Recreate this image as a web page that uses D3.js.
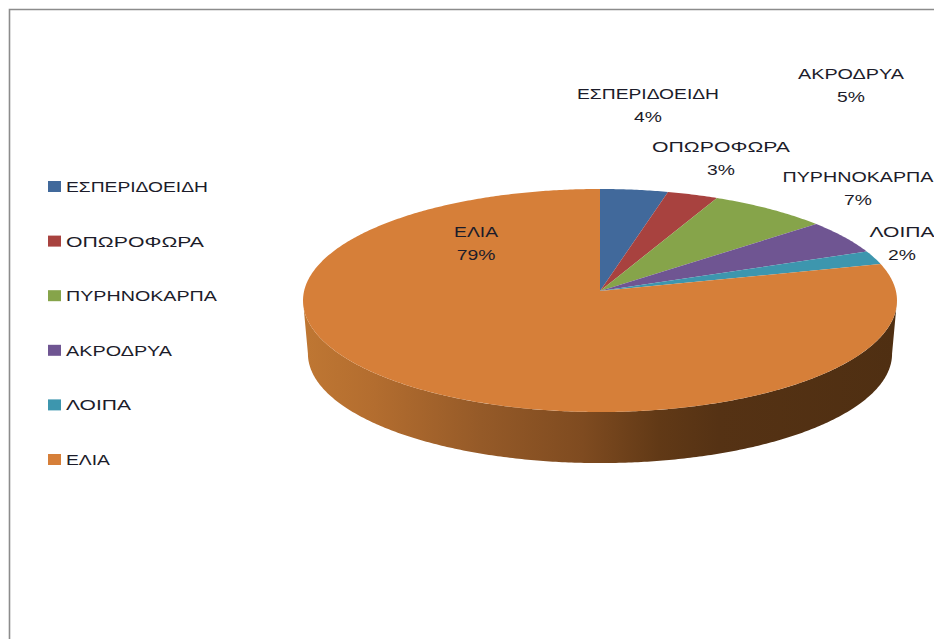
<!DOCTYPE html>
<html lang="el">
<head>
<meta charset="utf-8">
<script src="https://cdn.jsdelivr.net/npm/d3@7"></script>
<style>
  html, body { margin: 0; padding: 0; background: #fff; overflow: hidden; }
  svg { display: block; }
  text { font-family: "Liberation Sans", Arial, sans-serif; fill: #1c1c2a; }
</style>
</head>
<body>
<svg id="chart" width="934" height="639"></svg>
<script>
// Crop shares (%) and their slice colours
const categories = ["ΕΣΠΕΡΙΔΟΕΙΔΗ", "ΟΠΩΡΟΦΩΡΑ", "ΠΥΡΗΝΟΚΑΡΠΑ", "ΑΚΡΟΔΡΥΑ", "ΛΟΙΠΑ", "ΕΛΙΑ"];
const shares = [4, 3, 7, 5, 2, 79];
const colors = ["#41699b", "#a8423f", "#86a44a", "#6f5592", "#3d96ae", "#d67f39"];

// Data label centres and set widths of the category names
const labelX = [648, 721, 858, 851, 902, 476];
const labelY = [94, 147, 177, 74, 232, 232];
const nameWidths = [142, 138, 151, 106, 65, 44];

const svg = d3.select("#chart");
const FONT = 15.2;
const WIDEN = 1.27;   // horizontal stretch of the percentages

// Outer frame: only the top and left edges fall inside the page
svg.append("path")
  .attr("d", d3.line()([[9.5, 639], [9.5, 9.5], [934, 9.5]]))
  .attr("fill", "none").attr("stroke", "#8c8c8c").attr("stroke-width", 1.6);

// Perspective projection of a unit disc lying on a tilted plane
const TILT = 0.0852;
function projector(cx, cy, rx, ry) {
  return (angle, r = 1) => {
    const u = r * Math.sin(angle), v = r * Math.cos(angle);
    const d = 1 + TILT * v;
    return [cx + rx * u / d, cy - ry * v / d];
  };
}
const topFace = projector(600, 291, 295.9, 110.7);
const baseFace = projector(600, 344.5, 291, 108.5);

const line = d3.line();
const steps = (a0, a1) => {
  const n = Math.max(2, Math.ceil((a1 - a0) / 0.01));
  return d3.range(n + 1).map(i => a0 + (a1 - a0) * i / n);
};

const defs = svg.append("defs");
const wallGrad = defs.append("linearGradient").attr("id", "wall")
  .attr("gradientUnits", "userSpaceOnUse")
  .attr("x1", 303).attr("x2", 897).attr("y1", 0).attr("y2", 0);
[[0, "#bf7733"], [0.12, "#b36d2f"], [0.3, "#955a28"], [0.47, "#7f4b20"],
 [0.6, "#613916"], [0.7, "#553214"], [1, "#4f2f12"]].forEach(([o, c]) =>
  wallGrad.append("stop").attr("offset", o).attr("stop-color", c));

// Side wall of the disc, between the outline's widest points on the near half
const silhouette = Math.PI / 2 + Math.asin(TILT);
const wallAngles = steps(silhouette, 2 * Math.PI - silhouette);
const wallPts = wallAngles.map(a => topFace(a))
  .concat(wallAngles.slice().reverse().map(a => baseFace(a)));
svg.append("path").attr("d", line(wallPts) + "Z").attr("fill", "url(#wall)");

// Top face, one wedge per category, clockwise from twelve o'clock
const arcs = d3.pie().value(d => d).sort(null)(shares);
svg.append("g").selectAll("path").data(arcs).join("path")
  .attr("d", d => {
    const pts = steps(d.startAngle, d.endAngle).map(a => topFace(a));
    return line([topFace(0, 0), ...pts]) + "Z";
  })
  .attr("fill", (d, i) => colors[i]);

// Stretches a text node horizontally so its name runs to the set width
const fitWidth = (sel, x, y, width) => {
  const natural = sel.node().getComputedTextLength();
  sel.attr("transform", `translate(${x},${y}) scale(${width / natural},1)`);
};

// Data labels: category name with its share below
const labels = svg.append("g").attr("text-anchor", "middle").attr("font-size", FONT);
categories.forEach((name, i) => {
  fitWidth(labels.append("text").text(name), labelX[i], labelY[i] + 5, nameWidths[i]);
  labels.append("text")
    .attr("transform", `translate(${labelX[i]},${labelY[i] + 28}) scale(${WIDEN},1)`)
    .text(shares[i] + "%");
});

// Legend column
const legendY = d3.scalePoint().domain(categories).range([187, 460]);
const legend = svg.append("g").selectAll("g").data(categories).join("g")
  .attr("transform", d => `translate(48,${legendY(d)})`);
legend.append("rect").attr("x", 0).attr("y", -6).attr("width", 13).attr("height", 11)
  .attr("fill", (d, i) => colors[i]);
legend.append("text").attr("font-size", FONT).text(d => d)
  .each(function (d, i) { fitWidth(d3.select(this), 18, 5, nameWidths[i]); });
</script>
</body>
</html>
